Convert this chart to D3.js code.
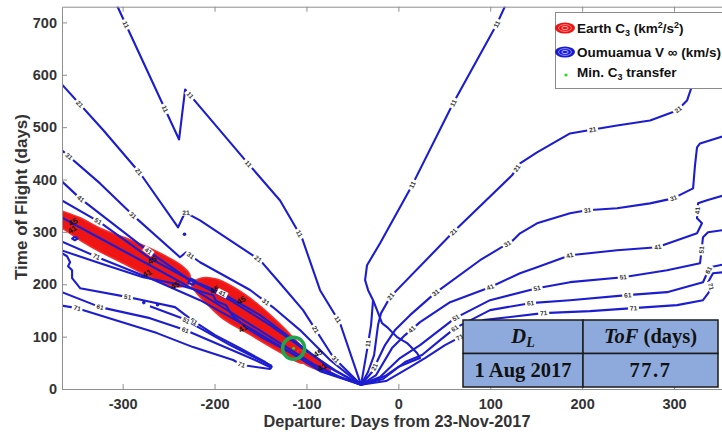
<!DOCTYPE html>
<html><head><meta charset="utf-8">
<script src="https://cdn.jsdelivr.net/npm/d3@7"></script>
<style>body{margin:0;background:#fff}svg{display:block}</style>
</head><body>
<svg id="c" width="722" height="441"></svg>
<script>
// ---------------- DATA (departure days from 23-Nov-2017, time of flight days) ----------------
const xDomain = [-366, 366];
const yDomain = [0, 730];
const xTicks = [-300, -200, -100, 0, 100, 200, 300];
const yTicks = [0, 100, 200, 300, 400, 500, 600, 700];

// Oumuamua V-infinity contours (km/s), left family (early departures)
const v11L = [[-310,748],[-305,728],[-238.6,476.5],[-232,572],[-164.6,432.7],[-128.7,360],[-104.8,288],[-85.2,188.7],[-63.5,126],[-40.6,8]];
const v21L = [[-372,593],[-321,494],[-281,412],[-239.7,308.8],[-232,337.4],[-215.8,322],[-183,284],[-150.5,246],[-128.7,202],[-103.7,150.6],[-71,61],[-40.6,8]];
const v31L = [[-372,465],[-324.6,392.6],[-288.7,331.6],[-237.6,251.6],[-231,261],[-215.8,242],[-161.3,189],[-136.3,156],[-107,112.5],[-74.3,55.3],[-40.6,8]];
const v41L = [[-372,406],[-346.3,364],[-270.3,261],[-229.9,211.6],[-191.8,183],[-150.5,141],[-107,84],[-74.3,40],[-40.6,8]];
const v51L = [[-372,366],[-324.6,318.3],[-270.3,249.7],[-226.6,207.8],[-183,169.6],[-139.6,122],[-101.5,74.3],[-69,36.2],[-40.6,8]];
const v61L = [[-372,333],[-324.6,287.8],[-270.3,236.3],[-221.2,188.7],[-172.2,135.3],[-128.7,87.7],[-90.6,45.7],[-63.5,22.9],[-40.6,8]];
const v71L = [[-372,286],[-324.6,249.7],[-270.3,211.6],[-215.8,169.6],[-161.3,116.3],[-117.8,70.5],[-85.2,36.2],[-40.6,8]];
const vJag = [[-372,268],[-324.6,240.2],[-277.8,213.5],[-245.1,202],[-219.1,188.7],[-201.6,179.2],[-198.3,168],[-187.5,160],[-181,141],[-164.6,116.3],[-147.2,97.2],[-128.7,80],[-112.4,64.8],[-85.2,34],[-40.6,8]];
// lower-left closed-off contours
const v51LL = [[-372,262],[-366,259.2],[-360.5,253.5],[-357.2,242.1],[-359.4,234.4],[-355,226.8],[-355,211.6],[-346.3,192.5],[-294.1,175.4],[-277.8,169.6],[-243,156.3],[-224.5,131.5],[-199.4,102.9],[-172.2,78.1],[-145,51.5],[-137.5,41.9]];
const v51LLb = [[-270.3,158.2],[-235.3,135.3],[-215.8,116.3],[-183.1,83.9],[-150.5,55.3],[-137.5,43.8]];
const v61LL = [[-372,187],[-366,184.9],[-324.6,156.3],[-270.3,135.3],[-232,112.5],[-194,83.9],[-155.9,55.3],[-137.5,40]];
const v71LL = [[-372,161],[-349.6,154.4],[-262.6,106.7],[-223.4,80],[-179.8,55.3],[-170,45.7],[-139.6,38.1],[-137.5,43.8]];
const vLoops = [[[-229,203],[-226,211],[-221,207],[-223,199],[-229,203]],[[-352,291],[-349,287],[-352,284],[-355,287],[-352,291]]];
const vDots = [[-232.7,295.4],[-277,165],[-262,161]];

// right family (late departures)
const v11R = [[-40.6,8],[-34.1,74.3],[-29.7,122],[-27.5,169.6],[-32.9,188.7],[-36.2,207.8],[-34.1,236.3],[-19.9,278.3],[14.9,388.8],[59.5,545],[107.4,697.6],[121,750]];
const v11Step = [[-27.5,169.6],[-23.2,150.6],[-17.8,125.8],[-12.3,118.2],[-5.8,106.7],[-1.4,99.1],[9.5,87.7],[20.3,68.6],[23.6,59.1],[12.7,51.5],[-0.3,41.9],[-14.5,24.8],[-30.8,13.3],[-40.6,8]];
const v21R = [[-40.6,8],[-33,32.4],[-26.4,64.8],[-22.1,122],[-18.8,144.9],[-9,175.4],[59.5,299.2],[123.7,408],[132.4,430.8],[150.9,451.7],[186.8,488],[211.9,495.6],[238,503.2],[273.9,512.7],[303.3,531.8],[314.1,550.8],[319.6,579],[326.1,636.6],[333.7,684]];
const v31R = [[-40.6,8],[-28.6,32.4],[-14.5,83.9],[-3.6,112.5],[12.7,141],[39.9,183],[88.9,245.9],[124.8,284],[132.4,297.3],[150.9,316.4],[186.8,335.5],[205.3,341.2],[238,345],[273.9,354.5],[298.9,364],[320.7,383.1],[322.8,427],[325,461.3],[328.3,468.9],[360,486]];
const v41R = [[-40.6,8],[-24.2,26.7],[-6.9,78.1],[7.3,102.9],[23.6,127.7],[56.3,165.8],[99.8,194.4],[132.4,221.1],[150.9,232.5],[186.8,255.4],[238,265],[281.5,270.7],[303.3,284],[325,297.3],[330.4,316.4],[325,326],[326.1,354.5],[335.9,360.2],[360,373]];
const v51R = [[-40.6,8],[-19.9,22.9],[1.8,59.1],[23.6,83.9],[61.7,135.3],[99.8,169.6],[150.9,192.5],[186.8,204],[244.5,213.5],[292.4,226.8],[328.3,240.2],[331.5,289.7],[337,299.2],[360,305]];
const v61R = [[-40.6,8],[-16.6,19.1],[7.3,51.5],[25.8,64.8],[45.4,93.4],[61.7,116.3],[99.8,150.6],[143.3,163.9],[186.8,169.6],[248.9,179.2],[292.4,184.9],[331.5,203.9],[335.9,221.1],[339.2,232.5],[360,240]];
const v71R = [[-40.6,8],[-13.4,15.2],[12.7,41.9],[29,59.1],[50.8,83.9],[67.1,99.1],[92.2,131.5],[157.4,144.9],[208.6,148.7],[255.4,154.4],[303.3,160.1],[331.5,169.6],[341.3,192.5],[337,203.9],[342.4,221.1],[360,224]];

// contour label anchor points, per level
const lab11 = [[-295,697],[-251.7,537.5],[-227.7,560],[-163.5,430.8],[-107,297],[-65.6,131.5],[107.4,697.6],[59.5,545],[14.9,388.8],[-30.8,87.7]];
const lab21 = [[-348.6,541],[-284.4,411.7],[-229.9,341.2],[-155.9,240],[-87.4,118.2],[-9,179.2],[59.5,299.2],[129.2,421.2],[211.9,495.6],[303.3,535.6],[-25.3,41.9]];
const lab31 = [[-360.5,442],[-288.7,331.6],[-224.5,259.2],[-143,170],[-68.9,55.3],[39.9,183],[119,278.3],[205.3,341.2],[298.9,364]];
const lab41 = [[-346.3,364],[-270.3,265],[-191.8,183],[12.7,118.2],[99.8,194.4],[186.8,255.4],[281.5,270.7],[330,340]];
const lab51 = [[-330,308.8],[-294.1,175.4],[-223.4,127.7],[-230,134],[61.7,137.2],[150.9,192.5],[244.5,213.5],[331.5,265]];
const lab61 = [[-324.6,156.3],[-232,110],[61.7,116.3],[143.3,163.9],[248.9,179.2],[337,227]];
const lab71 = [[-328.9,249],[-349.6,154.4],[-170,45.7],[67.1,99.1],[157.4,144.9],[255.4,154.4],[341,196]];

// Earth C3 contour regions (densely packed, appear filled)
const c3RegionA = [[-372,344],[-366,340],[-346.3,327],[-324.6,307],[-292,285],[-270.3,269],[-250,251],[-236,236],[-227,219],[-228,201],[-243,195],[-270.3,214],[-302.8,243],[-324.6,262],[-346.3,284],[-366,307],[-372,311]];
const c3RegionB = [[-225,200],[-214,212],[-198,210],[-176,191],[-150,158],[-128.7,124],[-114.6,99],[-101.5,74],[-95,60],[-103.7,49],[-128.7,70],[-164.6,107],[-190.7,134],[-208,162],[-220,184]];
const c3RegionC = [[-109.1,74.3],[-90.6,61],[-76.5,43.8],[-74.3,32.4],[-87.4,36.2],[-107,55.3]];
const c3LabelPts = [[-354,319],[-355,305],[-268,246],[-273.5,221],[-243,198],[-171,170],[-169,116],[-87.4,68.6],[-83,42],[-200,190]];
const c3LabelText = ["45","41","45","41","45","45","41","45","41","45"];

// minimum C3 transfer
const minDeparture = -114;   // 1 Aug 2017
const minTof = 77.7;

// table
const tableRow = ["1 Aug 2017", "77.7"];

// ---------------- CHART ----------------
const svg = d3.select("#c");
const x = d3.scaleLinear().domain(xDomain).range([62, 734.7]);
const y = d3.scaleLinear().domain(yDomain).range([389, 6.7]);
const FONT = "'Liberation Sans', Arial, sans-serif";
const BLUE = "#1d1dd0";

svg.append("defs").append("clipPath").attr("id","pc")
  .append("rect").attr("x",62).attr("y",6.7).attr("width",672.7).attr("height",382.3);
const plot = svg.append("g").attr("clip-path","url(#pc)");

const line = d3.line().x(d=>x(d[0])).y(d=>y(d[1]));
const blob = d3.line().x(d=>x(d[0])).y(d=>y(d[1])).curve(d3.curveCatmullRomClosed.alpha(0.5));

plot.selectAll("path.c3").data([c3RegionA, c3RegionB, c3RegionC]).join("path")
  .attr("class","c3").attr("d",blob).attr("fill","#f01515").attr("stroke","#f23030").attr("stroke-width",1.5);

const contours = [
  {lv:11,pts:v11L},{lv:21,pts:v21L},{lv:31,pts:v31L},{lv:41,pts:v41L},{lv:51,pts:v51L},{lv:61,pts:v61L},{lv:71,pts:v71L},
  {lv:61,pts:vJag},{lv:51,pts:v51LL},{lv:51,pts:v51LLb},{lv:61,pts:v61LL},{lv:71,pts:v71LL},
  {lv:11,pts:v11R},{lv:11,pts:v11Step},{lv:21,pts:v21R},{lv:31,pts:v31R},{lv:41,pts:v41R},{lv:51,pts:v51R},{lv:61,pts:v61R},{lv:71,pts:v71R},
  ...vLoops.map(p=>({lv:61,pts:p}))
];
const cp = plot.selectAll("path.v").data(contours).join("path")
  .attr("class","v").attr("d",d=>line(d.pts)).attr("fill","none")
  .attr("stroke",BLUE).attr("stroke-width",2.1).attr("stroke-linejoin","round");
plot.selectAll("circle.vd").data(vDots).join("circle").attr("class","vd")
  .attr("cx",d=>x(d[0])).attr("cy",d=>y(d[1])).attr("r",1.8).attr("fill",BLUE);

// C3 labels (black)
plot.selectAll("text.c3l").data(c3LabelPts).join("text").attr("class","c3l")
  .attr("transform",d=>`translate(${x(d[0])},${y(d[1])}) rotate(-30)`)
  .attr("text-anchor","middle").attr("dy","0.35em")
  .attr("font-family",FONT).attr("font-weight","bold").attr("font-size",8).attr("fill","#111")
  .text((d,i)=>c3LabelText[i]);

// contour labels snapped to nearest line
const samples = [];
cp.each(function(){
  const L = this.getTotalLength();
  for (let s=0; s<=L; s+=1.5){ const p=this.getPointAtLength(s); samples.push({x:p.x,y:p.y,el:this,s,L}); }
});
function place(px,py){
  let best=null, bd=1e12;
  for (const q of samples){ const d=(q.x-px)**2+(q.y-py)**2; if(d<bd){bd=d;best=q;} }
  const a=best.el.getPointAtLength(Math.max(0,best.s-4)), b=best.el.getPointAtLength(Math.min(best.L,best.s+4));
  let ang=Math.atan2(b.y-a.y,b.x-a.x)*180/Math.PI;
  if(ang>90) ang-=180; if(ang<-90) ang+=180;
  return {x:best.x,y:best.y,ang};
}
const labelSets = [[11,lab11],[21,lab21],[31,lab31],[41,lab41],[51,lab51],[61,lab61],[71,lab71]];
const labels = [];
labelSets.forEach(([lv,arr])=>arr.forEach(p=>{ const q=place(x(p[0]),y(p[1])); labels.push({lv,...q}); }));
const lg = plot.selectAll("g.lab").data(labels).join("g").attr("class","lab")
  .attr("transform",d=>`translate(${d.x},${d.y}) rotate(${d.ang})`);
lg.append("rect").attr("x",-5.5).attr("y",-3).attr("width",11).attr("height",6).attr("fill","#fff");
lg.append("text").attr("text-anchor","middle").attr("dy","0.35em")
  .attr("font-family",FONT).attr("font-weight","bold").attr("font-size",6.5).attr("fill","#333")
  .text(d=>d.lv);

// minimum C3 marker
plot.append("circle").attr("cx",x(minDeparture)).attr("cy",y(minTof)).attr("r",11)
  .attr("fill","none").attr("stroke","#1fa64c").attr("stroke-width",3.5);
plot.append("circle").attr("cx",x(minDeparture)).attr("cy",y(minTof)).attr("r",1.5).attr("fill","#22dd22");

// axes
function styleAxis(g){
  g.attr("font-family",FONT).attr("font-size",14.5).attr("font-weight","bold");
  g.selectAll("path,line").attr("stroke","#8f8f8f");
  g.selectAll("text").attr("fill","#333");
}
svg.append("g").attr("transform","translate(0,389)")
  .call(d3.axisBottom(x).tickValues(xTicks).tickFormat(d=>String(d)).tickSizeInner(-5).tickSizeOuter(0).tickPadding(10))
  .call(styleAxis);
svg.append("g").attr("transform","translate(0,6.7)")
  .call(d3.axisTop(x).tickValues(xTicks).tickFormat(()=>"").tickSizeInner(-5).tickSizeOuter(0))
  .call(styleAxis);
svg.append("g").attr("transform","translate(62,0)")
  .call(d3.axisLeft(y).tickValues(yTicks).tickFormat(d=>String(d)).tickSizeInner(-5).tickSizeOuter(0).tickPadding(5))
  .call(styleAxis);

svg.append("text").attr("x",397).attr("y",427).attr("text-anchor","middle")
  .attr("font-family",FONT).attr("font-weight","bold").attr("font-size",16.3).attr("fill","#333")
  .text("Departure: Days from 23-Nov-2017");
svg.append("text").attr("transform","translate(27,197) rotate(-90)").attr("text-anchor","middle")
  .attr("font-family",FONT).attr("font-weight","bold").attr("font-size",17).attr("fill","#333")
  .text("Time of Flight (days)");

// table
const SERIF = "'Liberation Serif', 'Times New Roman', serif";
const tb = svg.append("g");
const colX = [463, 583, 718], rowY = [320, 353.5, 387];
for (let r=0;r<2;r++) for (let c=0;c<2;c++)
  tb.append("rect").attr("x",colX[c]).attr("y",rowY[r]).attr("width",colX[c+1]-colX[c]).attr("height",rowY[r+1]-rowY[r])
    .attr("fill","#8eaadc").attr("stroke","#1b1b1b").attr("stroke-width",1.5);
const h1 = tb.append("text").attr("x",(colX[0]+colX[1])/2).attr("y",343).attr("text-anchor","middle")
  .attr("font-family",SERIF).attr("font-weight","bold").attr("font-size",20.5).attr("fill","#111");
h1.append("tspan").attr("font-style","italic").text("D");
h1.append("tspan").attr("font-style","italic").attr("font-size",14).attr("dy",4).text("L");
const h2 = tb.append("text").attr("x",(colX[1]+colX[2])/2).attr("y",343).attr("text-anchor","middle")
  .attr("font-family",SERIF).attr("font-weight","bold").attr("font-size",20.5).attr("fill","#111");
h2.append("tspan").attr("font-style","italic").text("ToF");
h2.append("tspan").text(" (days)");
tb.selectAll("text.row").data(tableRow).join("text").attr("class","row")
  .attr("x",(d,i)=>(colX[i]+colX[i+1])/2).attr("y",377).attr("text-anchor","middle")
  .attr("font-family",SERIF).attr("font-weight","bold").attr("font-size",20.5).attr("fill","#111")
  .attr("letter-spacing",(d,i)=>i===1?1.5:0)
  .text(d=>d);

// legend
const leg = svg.append("g");
leg.append("rect").attr("x",555.5).attr("y",12.5).attr("width",190).attr("height",76)
  .attr("fill","#fff").attr("stroke","#8a8a8a");
function icon(cx,cy,col){
  leg.append("ellipse").attr("cx",cx).attr("cy",cy).attr("rx",10).attr("ry",5.5).attr("fill",col);
  leg.append("ellipse").attr("cx",cx).attr("cy",cy).attr("rx",6.5).attr("ry",3.4).attr("fill","none").attr("stroke","#fff").attr("stroke-opacity",0.6).attr("stroke-width",0.8);
  leg.append("ellipse").attr("cx",cx).attr("cy",cy).attr("rx",3.2).attr("ry",1.6).attr("fill","none").attr("stroke","#fff").attr("stroke-opacity",0.8).attr("stroke-width",0.8);
}
icon(565,28,"#ee1111");
icon(565,52,"#1a1ad6");
leg.append("circle").attr("cx",566).attr("cy",75).attr("r",1.6).attr("fill","#22dd22");
function ltext(yb){ return leg.append("text").attr("x",577).attr("y",yb).attr("font-family",FONT).attr("font-weight","bold").attr("font-size",13.5).attr("fill","#111"); }
const t1 = ltext(33);
t1.append("tspan").text("Earth C");
t1.append("tspan").attr("font-size",9).attr("dy",3).text("3");
t1.append("tspan").attr("dy",-3).text(" (km");
t1.append("tspan").attr("font-size",9).attr("dy",-5).text("2");
t1.append("tspan").attr("dy",5).text("/s");
t1.append("tspan").attr("font-size",9).attr("dy",-5).text("2");
t1.append("tspan").attr("dy",5).text(")");
ltext(57).text("Oumuamua V \u221E (km/s)");
const t3 = ltext(77);
t3.append("tspan").text("Min. C");
t3.append("tspan").attr("font-size",9).attr("dy",3).text("3");
t3.append("tspan").attr("dy",-3).text(" transfer");
</script>
</body></html>
